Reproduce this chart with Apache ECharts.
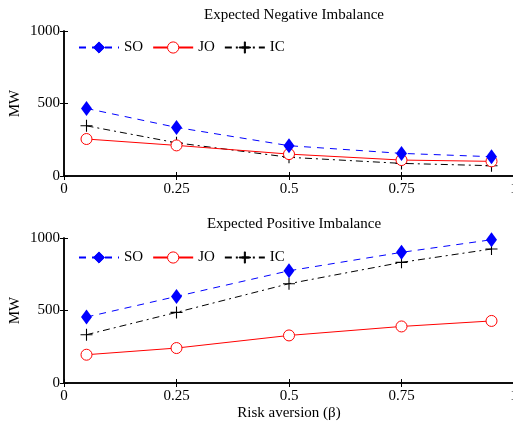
<!DOCTYPE html>
<html><head><meta charset="utf-8">
<script src="https://cdn.jsdelivr.net/npm/echarts@6/dist/echarts.min.js"></script>
<style>html,body{margin:0;padding:0;background:#fff}#c{width:513px;height:426px}</style>
</head><body><div id="c"></div>
<script>
const betas = [0.05, 0.25, 0.5, 0.75, 0.95];
const negSO = [466, 335, 209, 156, 133];
const negJO = [255, 211, 151, 110, 101];
const negIC = [346, 229, 129, 87, 71];
const posSO = [455, 597, 774, 901, 988];
const posJO = [195, 241, 328, 390, 428];
const posIC = [333, 487, 685, 832, 924];
const titles = ['Expected Negative Imbalance', 'Expected Positive Imbalance'];
const seriesNames = ['SO', 'JO', 'IC'];
const xTicks = [0, 0.25, 0.5, 0.75, 1];

const font = 'Liberation Serif';
const plus = 'path://M4.55,0h0.9v4.55h4.55v0.9h-4.55v4.55h-0.9v-4.55h-4.55v-0.9h4.55z';
const styles = [
  {color:'#0000ff', symbol:'diamond', symbolSize:[11,15], lineType:[7,6], fill:'#0000ff', bw:0},
  {color:'#ff0000', symbol:'circle', symbolSize:11, lineType:'solid', fill:'#ffffff', bw:1},
  {color:'#000000', symbol:plus, symbolSize:12, lineType:[7,4,2,4], fill:'#000000', bw:0}
];
const grids = [
  {left:64, top:31, width:450, height:145, outerBoundsMode:'none', containLabel:false},
  {left:64, top:238, width:450, height:145, outerBoundsMode:'none', containLabel:false}
];
const axisLine = {show:true, lineStyle:{color:'#000', width:1.5}};
const xAxes = [], yAxes = [], series = [];
const data = [[negSO, negJO, negIC],[posSO, posJO, posIC]];
grids.forEach((g, gi) => {
  const base = {gridIndex:gi, type:'value', min:0, max:1, interval:0.25, splitLine:{show:false}, axisLine,
    axisTick:{show:true, inside:true, length:4, lineStyle:{color:'#000'}}};
  xAxes.push(Object.assign({}, base, {position:'bottom',
    axisLabel:{show:true, margin:6, color:'#000', fontFamily:font, fontSize:15,
      formatter: v => xTicks.includes(v) ? String(v) : ''},
    name: gi === 1 ? 'Risk aversion (β)' : '', nameLocation:'middle', nameGap:23, nameMoveOverlap:false,
    nameTextStyle:{color:'#000', fontFamily:font, fontSize:15}}));
  xAxes.push(Object.assign({}, base, {position:'top', axisLabel:{show:false}}));
  const ybase = {gridIndex:gi, type:'value', min:0, max:1000, interval:500, splitLine:{show:false}, axisLine,
    axisTick:{show:true, inside:true, length:4, lineStyle:{color:'#000'}}};
  yAxes.push(Object.assign({}, ybase, {position:'left',
    axisLabel:{show:true, margin:4, color:'#000', fontFamily:font, fontSize:15, formatter: v => String(v)},
    name:'MW', nameLocation:'middle', nameGap:41, nameRotate:90, nameMoveOverlap:false,
    nameTextStyle:{color:'#000', fontFamily:font, fontSize:15}}));
  yAxes.push(Object.assign({}, ybase, {position:'right', axisLabel:{show:false}}));
  seriesNames.forEach((n, si) => {
    const s = styles[si];
    series.push({name:n, type:'line', xAxisIndex:gi*2, yAxisIndex:gi*2,
      data: betas.map((b, i) => [b, data[gi][si][i]]),
      symbol:s.symbol, symbolSize:s.symbolSize, showAllSymbol:true,
      lineStyle:{color:s.color, width:1, type:s.lineType},
      itemStyle:{color:s.fill, borderColor:s.color, borderWidth:s.bw},
      emphasis:{disabled:true}, animation:false, z: 3-si});
  });
});
const legendItem = seriesNames.map(n => ({name:n}));
const legendBase = {itemWidth:40, itemHeight:14, itemGap:9, left:78, padding:0,
  itemStyle:{borderWidth:1},
  textStyle:{fontFamily:font, fontSize:15, color:'#000'}};
const chart = echarts.init(document.getElementById('c'), null, {renderer:'canvas'});
chart.setOption({
  animation:false,
  title: titles.map((t, i) => ({text:t, left:289, textAlign:'center', top: i===0 ? 3 : 212,
    textStyle:{fontFamily:font, fontSize:15, fontWeight:'normal', color:'#000'}})),
  grid: grids,
  xAxis: xAxes,
  yAxis: yAxes,
  legend: [
    Object.assign({}, legendBase, {data:legendItem, top:40}),
    Object.assign({}, legendBase, {data:legendItem, top:250})
  ],
  series
});
</script></body></html>
